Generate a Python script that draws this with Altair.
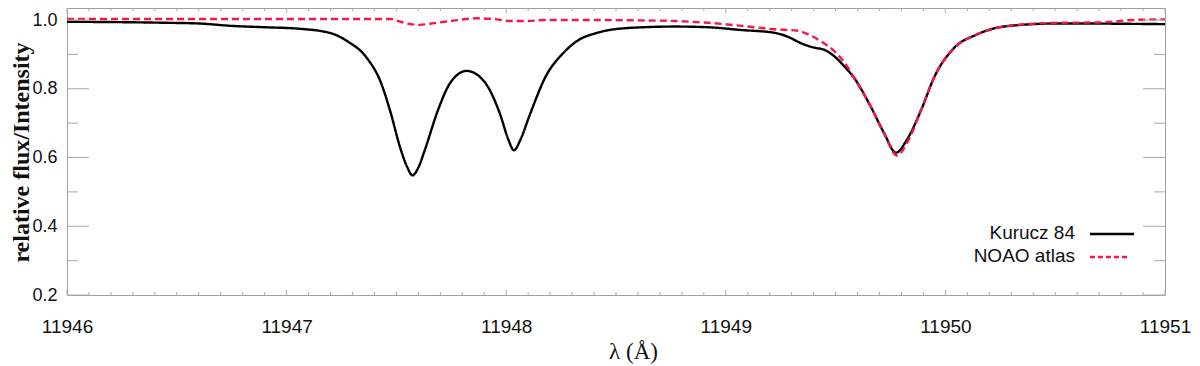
import altair as alt
import pandas as pd

series_names = ["Kurucz 84", "NOAO atlas"]

kurucz_wl = [11946.00, 11946.45, 11946.60, 11946.75, 11946.90, 11947.05, 11947.20, 11947.28,
             11947.36, 11947.43, 11947.47, 11947.52, 11947.55, 11947.573, 11947.60, 11947.63,
             11947.69, 11947.745, 11947.82, 11947.90, 11947.97, 11948.01, 11948.035, 11948.065,
             11948.105, 11948.18, 11948.26, 11948.33, 11948.41, 11948.56, 11948.77, 11948.92,
             11949.07, 11949.22, 11949.28, 11949.345, 11949.40, 11949.45, 11949.495, 11949.54,
             11949.585, 11949.66, 11949.72, 11949.775, 11949.825, 11949.89, 11949.95, 11950.04,
             11950.14, 11950.29, 11950.52, 11951.00]
kurucz_flux = [0.995, 0.992, 0.990, 0.983, 0.979, 0.975, 0.962, 0.937,
               0.894, 0.817, 0.739, 0.623, 0.571, 0.548, 0.571, 0.623,
               0.739, 0.817, 0.852, 0.821, 0.730, 0.652, 0.621, 0.652,
               0.720, 0.836, 0.904, 0.942, 0.962, 0.977, 0.981, 0.979,
               0.971, 0.963, 0.952, 0.932, 0.920, 0.913, 0.894, 0.865,
               0.831, 0.748, 0.672, 0.614, 0.652, 0.739, 0.835, 0.919,
               0.957, 0.983, 0.990, 0.988]

noao_wl = [11946.00, 11946.50, 11947.05, 11947.37, 11947.474, 11947.519, 11947.564, 11947.605,
           11947.673, 11947.745, 11947.867, 11947.944, 11948.016, 11948.093, 11948.17, 11948.274,
           11948.41, 11948.60, 11948.77, 11948.92, 11949.074, 11949.223, 11949.327, 11949.372,
           11949.436, 11949.495, 11949.553, 11949.585, 11949.66, 11949.72, 11949.78, 11949.83,
           11949.89, 11949.95, 11950.04, 11950.14, 11950.29, 11950.52, 11950.70, 11950.85, 11951.00]
noao_flux = [1.003, 1.003, 1.003, 1.003, 1.003, 0.995, 0.988, 0.986,
             0.991, 0.997, 1.005, 1.003, 0.997, 0.997, 1.000, 1.000,
             1.000, 0.999, 0.997, 0.992, 0.983, 0.973, 0.969, 0.959,
             0.937, 0.909, 0.865, 0.831, 0.748, 0.670, 0.606, 0.648,
             0.739, 0.835, 0.919, 0.957, 0.983, 0.992, 0.993, 1.000, 1.002]

x_major = [11946, 11947, 11948, 11949, 11950, 11951]
x_minor = [round(11946 + i * 0.1, 1) for i in range(51) if i % 10 != 0]
y_major = [0.2, 0.4, 0.6, 0.8, 1.0]
y_minor = [0.3, 0.5, 0.7, 0.9]

W, H = 1098, 287
TICK = "#a8a8a8"
RED = "#f5174b"
SANS = "Liberation Sans"
SERIF = "Liberation Serif"

df = pd.concat([
    pd.DataFrame({"wl": kurucz_wl, "flux": kurucz_flux, "series": series_names[0]}),
    pd.DataFrame({"wl": noao_wl, "flux": noao_flux, "series": series_names[1]}),
])

xscale = alt.Scale(domain=[11946, 11951], nice=False, zero=False)
yscale = alt.Scale(domain=[0.2, 1.035], nice=False, zero=False)

lines = alt.Chart(df).mark_line(interpolate="monotone", strokeWidth=2.4, clip=True).encode(
    x=alt.X("wl:Q", scale=xscale, axis=alt.Axis(
        values=x_major, format="d", ticks=False, domain=False, grid=False,
        labelFont=SANS, labelFontSize=19, labelColor="#111", labelPadding=22,
        labelFlush=False, labelOverlap=False,
        title="λ (Å)", titleFont=SERIF, titleFontSize=23, titleFontWeight="normal",
        titleColor="#111", titleX=566, titleY=56, titleBaseline="middle", titleAlign="center")),
    y=alt.Y("flux:Q", scale=yscale, axis=alt.Axis(
        values=y_major, format=".1f", ticks=False, domain=False, grid=False,
        labelFont=SANS, labelFontSize=18, labelColor="#111", labelPadding=10,
        labelFlush=False, labelOverlap=False,
        title="relative flux/Intensity", titleFont=SERIF, titleFontSize=24,
        titleFontWeight="bold", titleColor="#111", titleAngle=270,
        titleX=-46, titleY=144, titleAlign="center", titleBaseline="middle")),
    color=alt.Color("series:N", scale=alt.Scale(domain=series_names, range=["#000000", RED]), legend=None),
    strokeDash=alt.StrokeDash("series:N", scale=alt.Scale(domain=series_names, range=[[1, 0], [7, 4]]), legend=None),
)

ymaj = pd.DataFrame({"flux": y_major})
ymin = pd.DataFrame({"flux": y_minor})
xmaj = pd.DataFrame({"wl": x_major})
xmin = pd.DataFrame({"wl": x_minor})

def yt(d, x0, x1):
    return alt.Chart(d).mark_rule(color=TICK, strokeWidth=1).encode(
        y=alt.Y("flux:Q", scale=yscale), x=alt.value(x0), x2=alt.value(x1))

def xt(d, y0, y1):
    return alt.Chart(d).mark_rule(color=TICK, strokeWidth=1).encode(
        x=alt.X("wl:Q", scale=xscale), y=alt.value(y0), y2=alt.value(y1))

ticks = [
    yt(ymaj, 0, 22), yt(ymaj, W - 22, W),
    yt(ymin, 0, 11), yt(ymin, W - 11, W),
    xt(xmaj, H - 5, H), xt(xmaj, 0, 5),
    xt(xmin, H - 3, H), xt(xmin, 0, 3),
]

leg_k = pd.DataFrame({"series": [series_names[0]]})
leg_n = pd.DataFrame({"series": [series_names[1]]})

legend = [
    alt.Chart(leg_k).mark_text(align="right", baseline="middle", font=SANS, fontSize=19, color="#111").encode(
        text="series:N", x=alt.value(1008), y=alt.value(225)),
    alt.Chart(leg_n).mark_text(align="right", baseline="middle", font=SANS, fontSize=19, color="#111").encode(
        text="series:N", x=alt.value(1008), y=alt.value(248)),
    alt.Chart(leg_k).mark_rule(color="#000000", strokeWidth=2.5).encode(
        x=alt.value(1023), x2=alt.value(1067), y=alt.value(226)),
    alt.Chart(leg_n).mark_rule(color=RED, strokeWidth=2.5, strokeDash=[5, 3]).encode(
        x=alt.value(1023), x2=alt.value(1063), y=alt.value(249)),
]

chart = alt.layer(lines, *ticks, *legend).properties(
    width=W, height=H,
    autosize=alt.AutoSizeParams(type="none"),
    padding={"left": 59, "top": 0, "right": 27, "bottom": 70},
).configure_view(stroke="#a0a0a0", strokeWidth=1)

chart.save("out.html", embed_options={"renderer": "svg", "actions": False})
